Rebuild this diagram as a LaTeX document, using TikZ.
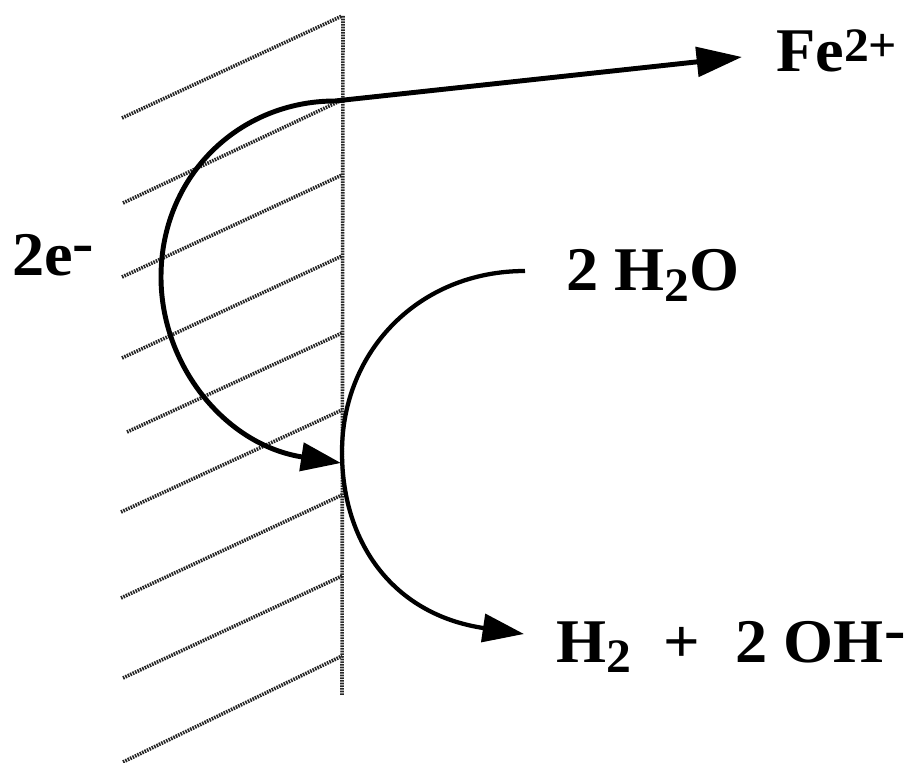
\documentclass[tikz,border=0pt]{standalone}
\usepackage{fontspec}
\setmainfont[FakeStretch=1.035]{Liberation Serif}
\usetikzlibrary{arrows.meta}
\newcommand{\smallup}[1]{\raisebox{7.5pt}{\fontsize{36}{40}\selectfont #1}}
\newcommand{\smalldown}[1]{\raisebox{-8pt}{\fontsize{36}{40}\selectfont #1}}
\newcommand{\bigminus}{\raisebox{9pt}{-}}
\tikzset{
  hatchline/.style={black!85, line width=2.7pt, dash pattern=on 1.2pt off 0.8pt},
  flowline/.style={line width=3.2pt},
  species/.style={font=\fontsize{46.6}{50}\selectfont\bfseries, inner sep=0pt, anchor=base west}
}
\begin{document}
\begin{tikzpicture}[x=0.75pt, y=-0.75pt]
    \useasboundingbox (0,0) rectangle (911,763);
    % Metal surface
    \draw[hatchline] (343,16) -- (342,695);
    \foreach \xa/\ya/\yb in {122/118/16, 123/203/100, 122/277/175, 122/358/256, 127/432/333,
                             121/512/410, 121/598/495, 123/678/576, 123/762/656}
        \draw[hatchline] (\xa,\ya) -- (342,\yb);

    % Species
    \node[species] (fe) at (776,72) {Fe\smallup{2+}};
    \node[species] (elec) at (12,276) {2e\bigminus};
    \node[species] (water) at (566,291) {2 H\smalldown{2}O};
    \node[species] (prod) at (556,662) {H\smalldown{2}\hspace{24pt}+\hspace{27pt}2 OH\bigminus};

    \coordinate (feend) at (742,57);
    \coordinate (surf) at (341,463);
    \coordinate (start) at (525,271);
    \coordinate (prodend) at (524,634);

    % Electron path
    \draw[flowline, line width=3.7pt, {Triangle[length=30pt,width=21pt]}-{Triangle[length=34pt,width=22pt]}] (surf)
        .. controls (225,445) and (161,365) .. (161,277)
        .. controls (161,175) and (240,101) .. (335,101) -- (feend);
    % Water reduction
    \draw[flowline, -{Triangle[length=31pt,width=21pt]}] (start)
        .. controls (420,271) and (342,350) .. (342,452)
        .. controls (342,545) and (395,615) .. (prodend);
\end{tikzpicture}
\end{document}
